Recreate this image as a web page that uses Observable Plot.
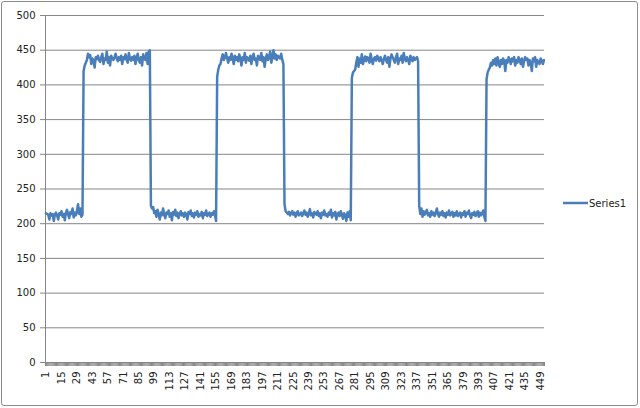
<!DOCTYPE html>
<html>
<head>
<meta charset="utf-8">
<script src="https://cdn.jsdelivr.net/npm/d3@7"></script>
<script src="https://cdn.jsdelivr.net/npm/@observablehq/plot@0.6"></script>
<style>
  html, body { margin: 0; padding: 0; background: #fff; }
  #wrap { position: relative; width: 640px; height: 408px; overflow: hidden; }
  #frame { position: absolute; left: 1px; top: 1px; width: 635px; height: 403px; border: 1px solid #8c8c8c; border-radius: 3px; pointer-events: none; }
  #legend { position: absolute; left: 562px; top: 196px; font-family: "DejaVu Sans", sans-serif; font-size: 10px; color: #222; display: flex; align-items: center; }
  #legend svg { display: block; }
</style>
</head>
<body>
<div id="wrap">
  <div id="chart"></div>
  <div id="frame"></div>
  <div id="legend"><svg width="27" height="14"><line x1="1" x2="26" y1="7" y2="7" stroke="#4A7EBB" stroke-width="2.5"/></svg><span id="legendText"></span></div>
</div>
<script>
const seriesName = "Series1";
const yTicks = [0, 50, 100, 150, 200, 250, 300, 350, 400, 450, 500];
const xLabels = [1, 15, 29, 43, 57, 71, 85, 99, 113, 127, 141, 155, 169, 183, 197, 211, 225, 239, 253, 267, 281, 295, 309, 323, 337, 351, 365, 379, 393, 407, 421, 435, 449];

const low1 = [215,214,213,206,215,212,214,204,213,216,
  212,206,215,213,218,210,214,205,216,220,
  213,208,217,214,222,209,216,212,219,228,214,222,210,213];
const high1 = [420,428,432,436,445,440,443,430,438,435,
  425,440,437,442,436,433,440,445,430,438,
  436,448,432,440,428,442,438,436,440,445,
  438,434,440,436,442,430,440,437,444,436,
  432,446,438,435,440,436,442,430,438,445,
  436,432,440,428,444,438,436,446,430,448,
  450];
const low2 = [226,222,224,215,218,210,220,214,206,216,
  212,222,213,208,216,214,219,210,215,205,
  217,213,220,211,216,208,214,218,212,215,
  210,216,213,206,217,214,219,211,215,209,
  216,213,218,210,214,212,217,208,215,213,
  219,211,214,216,210,215,213,218,212,204];
const high2 = [412,422,428,430,438,444,436,440,446,438,
  432,440,436,445,438,430,442,436,440,434,
  444,438,428,440,436,446,432,440,438,435,
  442,430,440,445,436,438,428,442,440,436,
  446,434,440,426,438,444,436,440,448,432,
  440,450,438,444,436,442,440,438,445,436,
  430];
const low3 = [228,218,216,214,217,212,215,218,213,216,
  210,215,218,212,214,216,211,215,219,213,
  216,210,214,221,212,215,209,217,214,213,
  218,211,215,208,216,213,219,212,214,210,
  216,213,220,209,215,212,217,206,214,216,
  211,218,213,207,215,212,204,216,210,218,205];
const high3 = [410,418,420,422,432,440,426,438,432,444,
  430,436,441,434,440,438,432,445,436,430,
  438,440,435,442,438,434,440,436,430,437,
  442,436,432,440,426,438,444,440,436,432,
  440,445,430,438,436,442,432,446,438,434,
  440,436,430,442,438,434,440,436,438,440,434];
const low4 = [226,214,222,210,218,213,216,220,212,215,
  210,218,213,216,211,215,222,214,210,216,
  213,218,211,215,209,216,213,219,212,214,
  217,210,215,212,218,211,214,216,209,215,
  213,218,210,216,214,219,212,208,215,213,
  217,211,214,218,210,216,212,215,219,210,204];
const high4 = [408,418,422,425,432,428,436,430,438,428,
  440,432,426,436,430,438,434,420,436,432,
  440,436,430,438,434,440,428,436,432,440,
  436,430,438,426,434,440,436,438,428,436,
  432,420,438,434,440,426,436,432,430,438,
  434,430,436];

const values = [...low1, ...high1, ...low2, ...high2, ...low3, ...high3, ...low4, ...high4];
const N = values.length;
const data = values.map((v, k) => ({i: k + 1, v}));
const boundaries = d3.range(0, N + 1).map(k => k + 0.5);

const gray = "#868686";
const chart = Plot.plot({
  width: 640,
  height: 408,
  marginLeft: 45,
  marginRight: 96,
  marginTop: 15,
  marginBottom: 46,
  style: {fontFamily: "DejaVu Sans, sans-serif", fontSize: "10px", color: "#222", background: "transparent"},
  x: {domain: [0.5, N + 0.5]},
  y: {domain: [0, 500]},
  marks: [
    Plot.gridY(yTicks, {stroke: gray, strokeOpacity: 1}),
    Plot.axisY(yTicks, {tickSize: 5, tickPadding: 5, stroke: gray, label: null}),
    Plot.ruleX([0.5], {stroke: gray}),
    Plot.ruleY([0], {stroke: gray}),
    Plot.axisX(boundaries, {tickSize: 4, tickFormat: () => "", stroke: gray, label: null}),
    Plot.axisX(xLabels, {tickSize: 0, tickPadding: 9, tickRotate: -90, label: null}),
    Plot.line(data, {x: "i", y: "v", stroke: "#4A7EBB", strokeWidth: 2.5, strokeLinejoin: "round"})
  ]
});
document.getElementById("chart").appendChild(chart);
document.getElementById("legendText").textContent = seriesName;
</script>
</body>
</html>
